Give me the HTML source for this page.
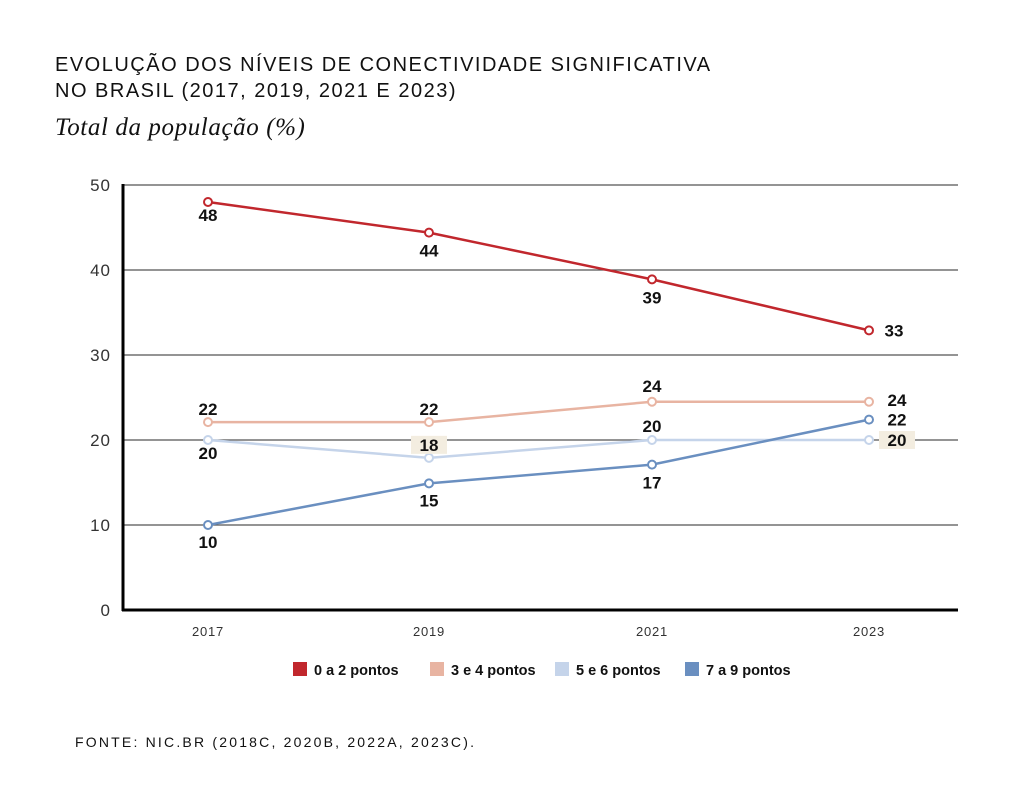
<!DOCTYPE html>
<html><head><meta charset="utf-8">
<style>
body{margin:0;background:#fff;width:1031px;height:792px;overflow:hidden;font-family:"Liberation Sans",sans-serif;}
.t{position:absolute;left:55px;font-size:19.5px;color:#111;letter-spacing:0.3px;white-space:nowrap}
</style></head><body>
<div class="t" style="top:52px;line-height:26px;font-size:20px;letter-spacing:1.5px">EVOLUÇÃO DOS NÍVEIS DE CONECTIVIDADE SIGNIFICATIVA<br>NO BRASIL (2017, 2019, 2021 E 2023)</div>
<div class="t" style="top:114px;font-family:'Liberation Serif',serif;font-style:italic;font-size:25px;letter-spacing:0.6px">Total da população (%)</div>
<svg id="c" width="1031" height="792" style="position:absolute;left:0;top:0"></svg>
<div class="t" style="top:734px;font-size:14px;left:75px;letter-spacing:2.2px">FONTE: NIC.BR (2018C, 2020B, 2022A, 2023C).</div>
<script>
const years=["2017","2019","2021","2023"];
const yTicks=[0,10,20,30,40,50];
const s0=[48,44.4,38.9,32.9];
const s1=[22.1,22.1,24.5,24.5];
const s2=[20,17.9,20,20];
const s3=[10,14.9,17.1,22.4];
const l0=["48","44","39","33"];
const l1=["22","22","24","24"];
const l2=["20","18","20","20"];
const l3=["10","15","17","22"];
const names=["0 a 2 pontos","3 e 4 pontos","5 e 6 pontos","7 a 9 pontos"];
const colors=["#c1272d","#e8b4a2","#c5d4ea","#6a8fc0"];
const svg=document.getElementById('c');const NS='http://www.w3.org/2000/svg';
const xs=[208,429,652,869];
const X=i=>xs[i];const Y=v=>610-v*8.5;
function mk(t,a,p){const e=document.createElementNS(NS,t);for(const k in a)e.setAttribute(k,a[k]);(p||svg).appendChild(e);return e;}
yTicks.forEach(v=>{
 if(v>0){const g=mk('line',{x1:123,x2:958,y1:Y(v),y2:Y(v),stroke:'#555','stroke-width':1.2});
 
 }
 const t=mk('text',{x:111,y:Y(v)+6,'text-anchor':'end','font-size':17,fill:'#333','letter-spacing':1});t.textContent=v;
 
 
});
const ax=mk('line',{x1:123,x2:123,y1:184,y2:611,stroke:'#000','stroke-width':3});


const bx=mk('line',{x1:122,x2:958,y1:610,y2:610,stroke:'#000','stroke-width':3});


years.forEach((y,i)=>{const t=mk('text',{x:X(i),y:636,'text-anchor':'middle','font-size':13,fill:'#333','letter-spacing':0.8});t.textContent=y;
 
 });
const series=[s0,s1,s2,s3],labels=[l0,l1,l2,l3];
const off=[[[0,19],[0,24],[0,24],[25,6]],[[0,-7],[0,-7],[0,-10],[28,4]],[[0,19],[0,-7],[0,-8],[28,6]],[[0,23],[0,23],[0,24],[28,6]]];
const order=[2,1,3,0];
order.forEach(k=>{const d=series[k];
 const p=mk('polyline',{points:d.map((v,i)=>X(i)+','+Y(v)).join(' '),fill:'none',stroke:colors[k],'stroke-width':2.5});
 
 
 d.forEach((v,i)=>{const c=mk('circle',{cx:X(i),cy:Y(v),r:4,fill:'#fff',stroke:colors[k],'stroke-width':2});
 
 });
});
order.forEach(k=>{series[k].forEach((v,i)=>{const o=off[k][i];
 if((k==2&&i==1)||(k==2&&i==3)){const r=mk('rect',{x:X(i)+o[0]-18,y:Y(v)+o[1]-15,width:36,height:18,fill:'#f3ede0'});
 
 }
 const t=mk('text',{x:X(i)+o[0],y:Y(v)+o[1],'text-anchor':'middle','font-size':17,'font-weight':'bold',fill:'#111'});t.textContent=labels[k][i];
 
 });});
const lx=[293,430,555,685];
names.forEach((n,k)=>{const r=mk('rect',{x:lx[k],y:662,width:14,height:14,fill:colors[k]});
 
 
 const t=mk('text',{x:lx[k]+21,y:675,'font-size':14.5,'font-weight':'bold',fill:'#111'});t.textContent=n;
 
 });
</script>
</body></html>
